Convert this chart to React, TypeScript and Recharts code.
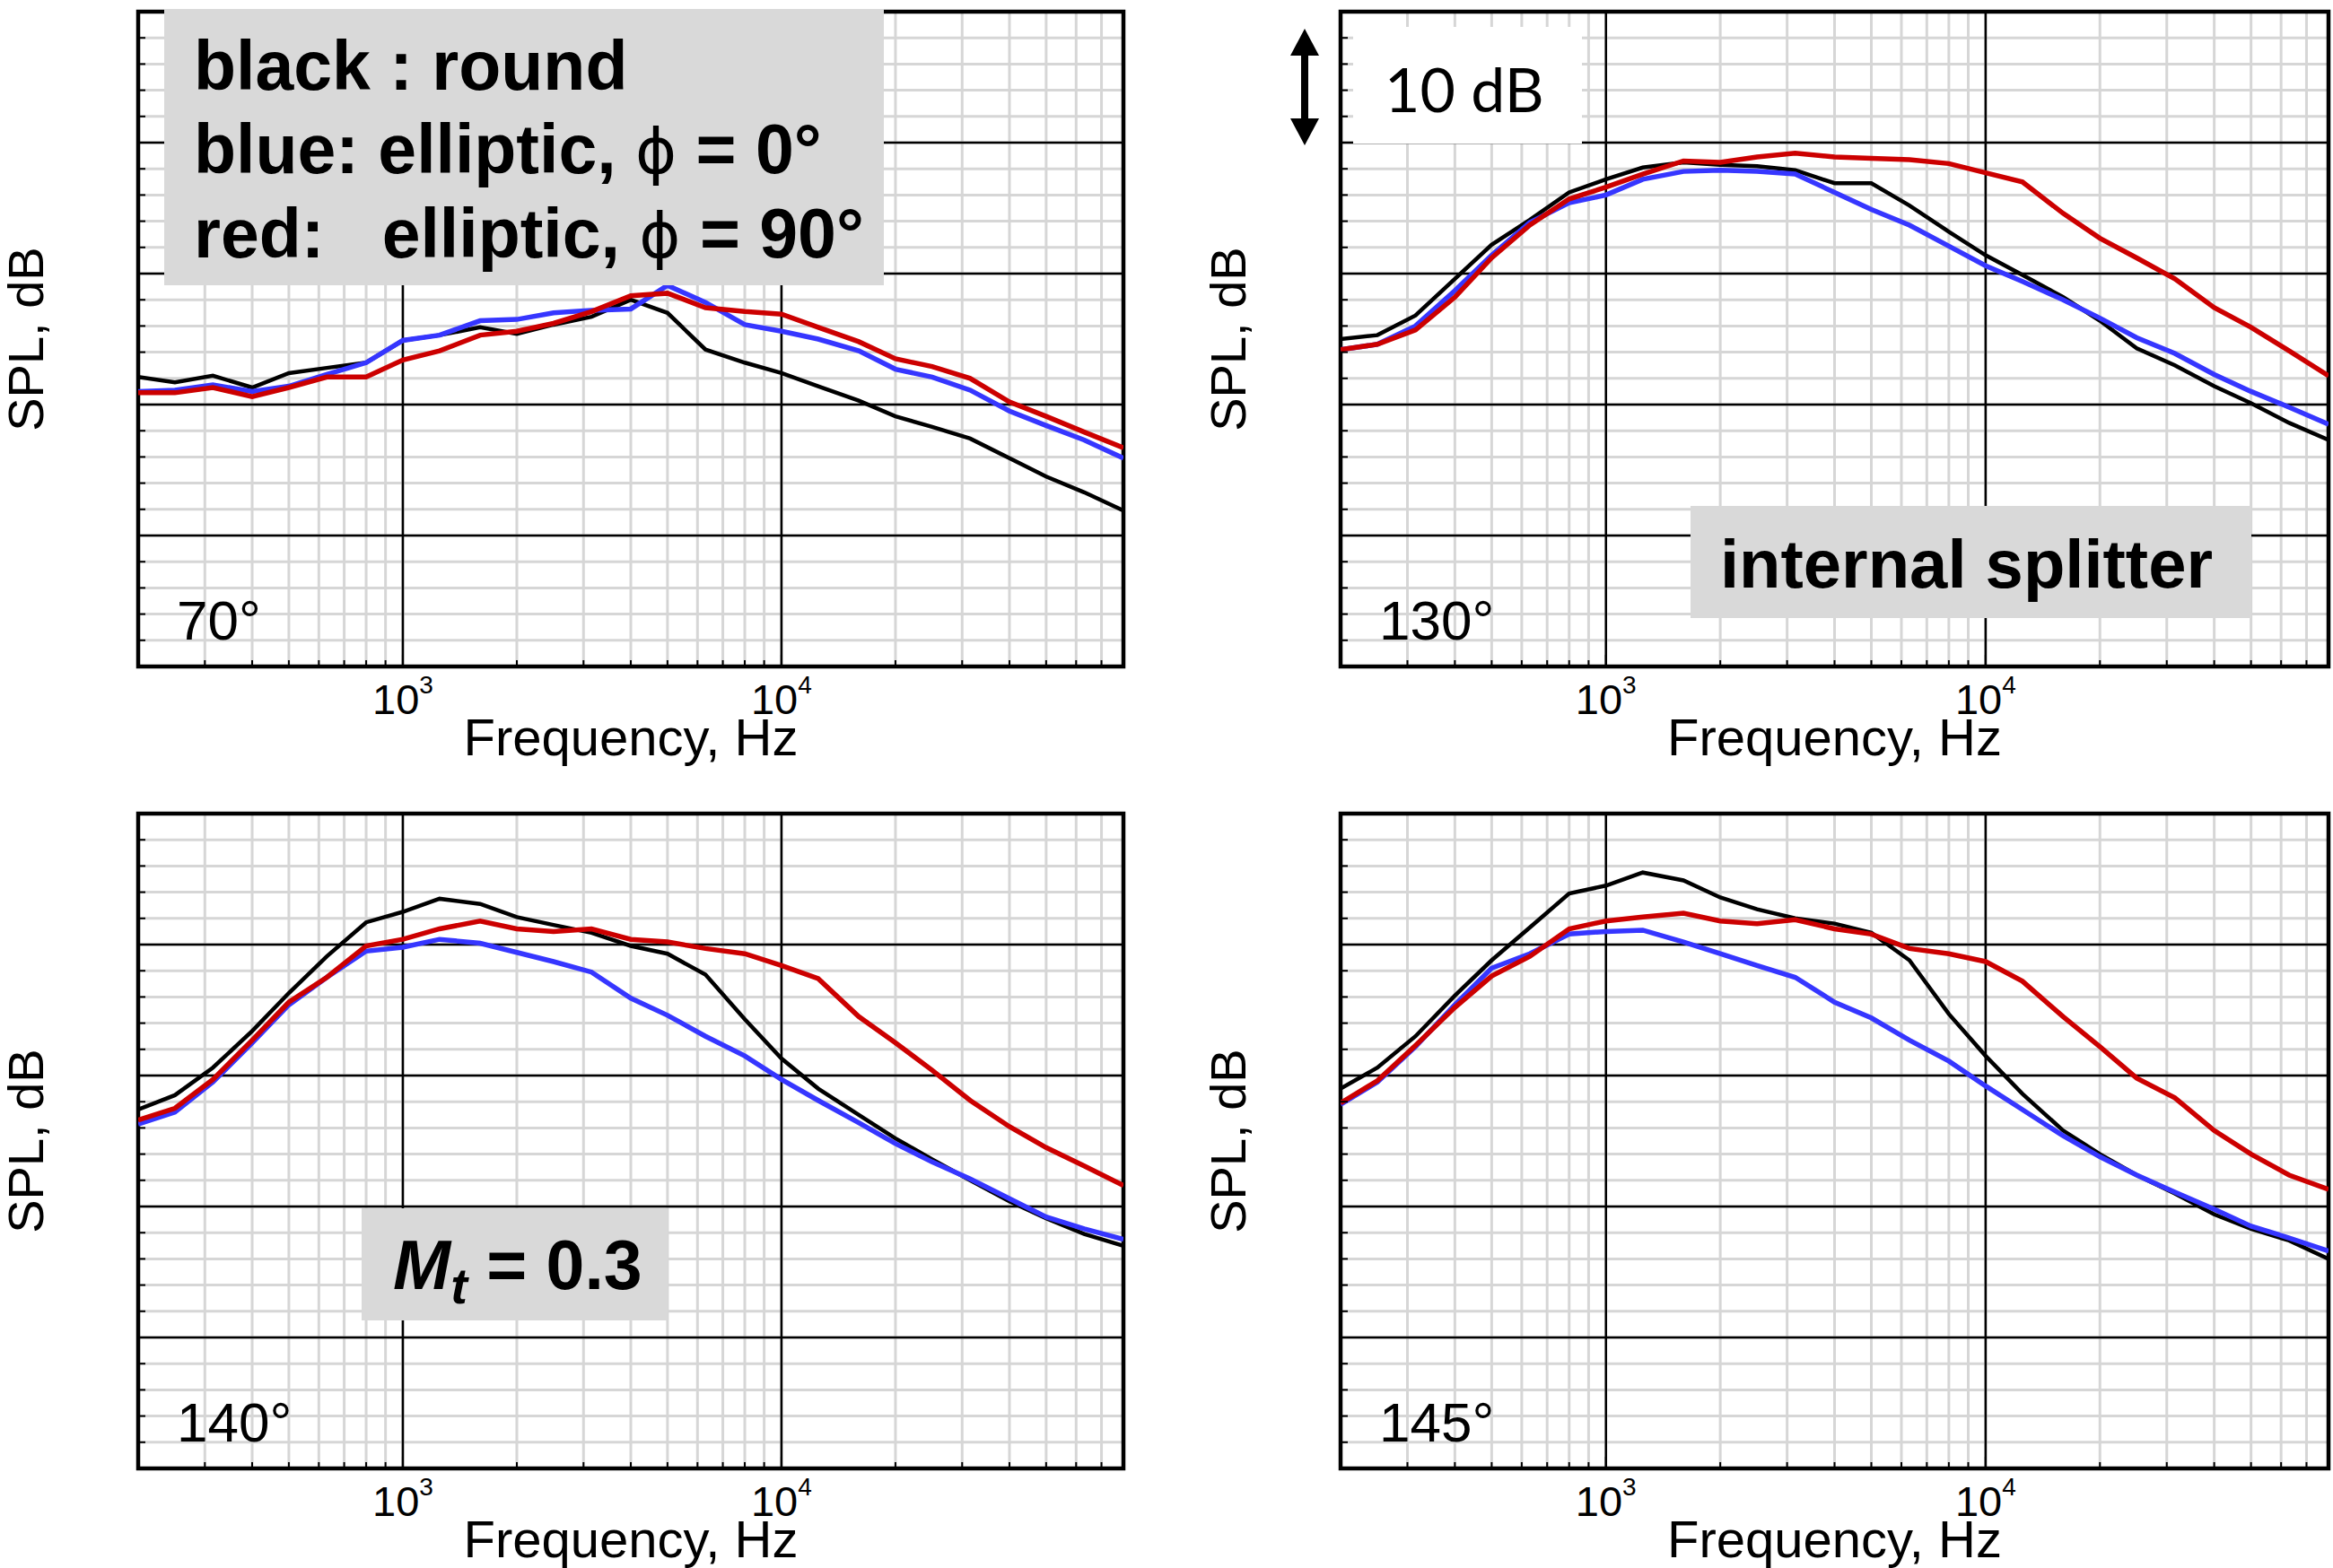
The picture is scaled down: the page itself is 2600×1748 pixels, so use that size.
import React from 'react'
import {
  LineChart, Line, XAxis, YAxis, CartesianGrid, ReferenceLine, ReferenceArea, Label,
} from 'recharts'

const FONT = "'Liberation Sans', Arial, sans-serif"

// 1/3-octave band centre frequencies, Hz
const FREQ = [200, 250, 315, 400, 500, 630, 800, 1000, 1250, 1600, 2000, 2500, 3150, 4000, 5000, 6300, 8000, 10000, 12500, 16000, 20000, 25000, 31500, 40000, 50000, 63000, 80000]

// SPL in dB, relative to the bottom of each panel (panel spans 50 dB)
const black70 = [22.1, 21.7, 22.2, 21.3, 22.4, 22.8, 23.2, 24.9, 25.3, 25.9, 25.4, 26.1, 26.7, 28.0, 27.0, 24.2, 23.2, 22.4, 21.4, 20.3, 19.1, 18.3, 17.4, 15.9, 14.5, 13.3, 11.9]
const blue70 = [21.0, 21.1, 21.5, 21.0, 21.4, 22.3, 23.2, 24.9, 25.3, 26.4, 26.5, 27.0, 27.2, 27.3, 29.1, 27.8, 26.1, 25.6, 25.0, 24.1, 22.7, 22.1, 21.1, 19.5, 18.4, 17.3, 15.9]
const red70 = [20.9, 20.9, 21.3, 20.6, 21.3, 22.1, 22.1, 23.4, 24.1, 25.3, 25.6, 26.2, 27.1, 28.3, 28.5, 27.4, 27.1, 26.9, 25.9, 24.8, 23.5, 22.9, 22.0, 20.2, 19.1, 17.9, 16.7]

const black130 = [25.0, 25.3, 26.8, 29.6, 32.2, 34.1, 36.2, 37.2, 38.1, 38.5, 38.3, 38.2, 37.9, 36.9, 36.9, 35.2, 33.2, 31.4, 29.9, 28.2, 26.4, 24.3, 23.0, 21.4, 20.1, 18.6, 17.3]
const blue130 = [24.2, 24.6, 26.0, 28.7, 31.4, 33.9, 35.4, 36.0, 37.2, 37.8, 37.9, 37.8, 37.6, 36.2, 34.9, 33.7, 32.1, 30.6, 29.4, 28.0, 26.6, 25.1, 23.9, 22.3, 21.0, 19.8, 18.5]
const red130 = [24.2, 24.6, 25.7, 28.2, 31.2, 33.7, 35.7, 36.6, 37.6, 38.6, 38.5, 38.9, 39.2, 38.9, 38.8, 38.7, 38.4, 37.7, 37.0, 34.6, 32.7, 31.2, 29.6, 27.4, 25.9, 24.1, 22.2]

const black140 = [27.4, 28.5, 30.6, 33.4, 36.3, 39.1, 41.7, 42.5, 43.5, 43.1, 42.1, 41.5, 40.9, 39.9, 39.3, 37.7, 34.3, 31.3, 29.0, 27.0, 25.2, 23.6, 22.0, 20.4, 19.1, 17.9, 17.0]
const blue140 = [26.3, 27.2, 29.5, 32.5, 35.4, 37.5, 39.5, 39.8, 40.4, 40.1, 39.4, 38.7, 37.9, 35.9, 34.6, 33.0, 31.5, 29.7, 28.1, 26.4, 24.8, 23.4, 22.1, 20.6, 19.2, 18.3, 17.5]
const red140 = [26.6, 27.5, 29.7, 32.7, 35.6, 37.5, 39.9, 40.4, 41.2, 41.8, 41.2, 41.0, 41.2, 40.4, 40.2, 39.7, 39.3, 38.4, 37.4, 34.5, 32.5, 30.4, 28.1, 26.1, 24.5, 23.1, 21.6]

const black145 = [29.0, 30.6, 33.0, 36.1, 38.8, 41.3, 43.9, 44.5, 45.5, 44.9, 43.6, 42.7, 42.0, 41.6, 40.9, 38.8, 34.7, 31.5, 28.6, 25.8, 24.0, 22.4, 21.0, 19.4, 18.3, 17.4, 16.0]
const blue145 = [27.8, 29.5, 32.2, 35.4, 38.2, 39.3, 40.8, 41.0, 41.1, 40.2, 39.3, 38.4, 37.5, 35.6, 34.4, 32.7, 31.1, 29.2, 27.4, 25.4, 23.8, 22.4, 21.1, 19.8, 18.5, 17.6, 16.6]
const red145 = [27.9, 29.6, 32.3, 35.2, 37.6, 39.1, 41.2, 41.8, 42.1, 42.4, 41.8, 41.6, 41.9, 41.2, 40.8, 39.7, 39.3, 38.7, 37.2, 34.5, 32.2, 29.8, 28.3, 25.8, 24.0, 22.4, 21.3]

// axis ticks
const X_TICKS = [200, 300, 400, 500, 600, 700, 800, 900, 1000, 2000, 3000, 4000, 5000, 6000, 7000, 8000, 9000, 10000, 20000, 30000, 40000, 50000, 60000, 70000, 80000]
const X_DECADES = [1000, 10000]
const X_DECADE_EXP = ['3', '4']
const Y_TICKS = [0, 2, 4, 6, 8, 10, 12, 14, 16, 18, 20, 22, 24, 26, 28, 30, 32, 34, 36, 38, 40, 42, 44, 46, 48, 50]
const Y_MAJOR = [10, 20, 30, 40]

const PLOT_H = 730
const Y_AXIS_W = 154
const X_AXIS_H = 112
const M_TOP = 10
const M_RIGHT = 4

const COLORS = { black: '#000000', blue: '#3636ff', red: '#cc0000', grid: '#d6d6d6', box: '#d9d9d9' }

function FreqTick(props: any) {
  const { x, y, payload } = props
  const idx = X_DECADES.indexOf(payload.value)
  const major = idx >= 0
  return (
    <g>
      <line x1={x} x2={x} y1={y} y2={y - (major ? 13 : 7)} stroke="#000" strokeWidth={2} />
      {major && (
        <text x={x} y={y + 53} textAnchor="middle" fontSize={47} fontFamily={FONT} fill="#000">
          10<tspan dy={-23} fontSize={28}>{X_DECADE_EXP[idx]}</tspan>
        </text>
      )}
    </g>
  )
}

function DbTick(props: any) {
  const { x, y, payload } = props
  const major = payload.value % 10 === 0
  return <line x1={x} x2={x + (major ? 13 : 8)} y1={y} y2={y} stroke="#000" strokeWidth={2} />
}

interface PanelProps {
  left: number
  top: number
  plotW: number
  black: number[]
  blue: number[]
  red: number[]
}

function Panel({ left, top, plotW, black, blue, red }: PanelProps) {
  const data = FREQ.map((f, i) => ({ f, black: black[i], blue: blue[i], red: red[i] }))
  const width = Y_AXIS_W + plotW + M_RIGHT
  const height = M_TOP + PLOT_H + X_AXIS_H
  return (
    <div style={{ position: 'absolute', left, top, width, height }}>
      <LineChart width={width} height={height} data={data}
        margin={{ top: M_TOP, right: M_RIGHT, left: 0, bottom: 0 }}>
        <CartesianGrid stroke={COLORS.grid} strokeWidth={3} />
        <XAxis
          dataKey="f" type="number" scale="log" domain={[200, 80000]} allowDataOverflow
          ticks={X_TICKS} interval={0} height={X_AXIS_H}
          tickSize={0} tickMargin={0} axisLine={false} tick={(p: any) => <FreqTick {...p} />}
        >
          <Label content={(p: any) => {
            const vb = p.viewBox
            return (
              <text x={vb.x + vb.width / 2} y={vb.y + 99} textAnchor="middle"
                fontSize={58} fontFamily={FONT} fill="#000">Frequency, Hz</text>
            )
          }} />
        </XAxis>
        <YAxis
          type="number" domain={[0, 50]} allowDataOverflow ticks={Y_TICKS} interval={0}
          width={Y_AXIS_W} tickSize={0} tickMargin={0} axisLine={false}
          tick={(p: any) => <DbTick {...p} />}
        >
          <Label content={(p: any) => {
            const vb = p.viewBox
            const cx = vb.x + 48
            const cy = vb.y + vb.height / 2
            return (
              <text x={cx} y={cy} transform={`rotate(-90 ${cx} ${cy})`} textAnchor="middle"
                fontSize={56} fontFamily={FONT} fill="#000">SPL, dB</text>
            )
          }} />
        </YAxis>
        {X_DECADES.map((v) => (
          <ReferenceLine key={'x' + v} x={v} stroke="#000" strokeWidth={2.5} />
        ))}
        {Y_MAJOR.map((v) => (
          <ReferenceLine key={'y' + v} y={v} stroke="#000" strokeWidth={2.5} />
        ))}
        <Line type="linear" dataKey="black" stroke={COLORS.black} strokeWidth={4.5} dot={false} isAnimationActive={false} />
        <Line type="linear" dataKey="blue" stroke={COLORS.blue} strokeWidth={5.5} dot={false} isAnimationActive={false} />
        <Line type="linear" dataKey="red" stroke={COLORS.red} strokeWidth={5.5} dot={false} isAnimationActive={false} />
        <ReferenceArea x1={200} x2={80000} y1={0} y2={50} fill="none" fillOpacity={0}
          stroke="#000" strokeWidth={4.5} />
      </LineChart>
    </div>
  )
}

const PANELS = [
  { plotX: 154, plotY: 13, plotW: 1098, black: black70, blue: blue70, red: red70, angle: '70°' },
  { plotX: 1494, plotY: 13, plotW: 1101, black: black130, blue: blue130, red: red130, angle: '130°' },
  { plotX: 154, plotY: 907, plotW: 1098, black: black140, blue: blue140, red: red140, angle: '140°' },
  { plotX: 1494, plotY: 907, plotW: 1101, black: black145, blue: blue145, red: red145, angle: '145°' },
]

export default function App() {
  return (
    <div style={{ position: 'absolute', left: 0, top: 0, width: 2600, height: 1748, background: '#fff', overflow: 'hidden' }}>
      {PANELS.map((p) => (
        <Panel key={p.angle} left={p.plotX - Y_AXIS_W} top={p.plotY - M_TOP} plotW={p.plotW}
          black={p.black} blue={p.blue} red={p.red} />
      ))}
      <svg width={2600} height={1748} style={{ position: 'absolute', left: 0, top: 0, pointerEvents: 'none' }}
        fontFamily={FONT}>
        {/* legend box */}
        <rect x={183} y={10} width={802} height={308} fill={COLORS.box} />
        <g fontSize={77} fontWeight="bold" fill="#000" style={{ whiteSpace: 'pre' }}>
          <text x={216} y={100}>black : round</text>
          <text x={216} y={193}>blue: elliptic, <tspan fontWeight="normal" fontFamily="'DejaVu Sans'" fontSize={70}>ϕ</tspan> = 0°</text>
          <text x={216} y={287} xmlSpace="preserve">red:   elliptic, <tspan fontWeight="normal" fontFamily="'DejaVu Sans'" fontSize={70}>ϕ</tspan> = 90°</text>
        </g>

        {/* 10 dB scale */}
        <rect x={1508} y={30} width={255} height={130} fill="#fff" />
        <text x={1543} y={125} fontSize={68} fontFamily="Lato, 'Open Sans', sans-serif" fill="#000">10 dB</text>
        <polygon points="1454,32 1438,62 1470,62" fill="#000" />
        <polygon points="1454,162 1438,132 1470,132" fill="#000" />
        <rect x={1450} y={58} width={8} height={78} fill="#000" />

        {/* internal splitter */}
        <rect x={1884} y={564} width={625} height={125} fill={COLORS.box} />
        <text x={1917} y={655} fontSize={76} fontWeight="bold" fill="#000">internal splitter</text>

        {/* Mach number */}
        <rect x={403} y={1347} width={341} height={125} fill={COLORS.box} />
        <text x={438} y={1437} fontSize={77} fontWeight="bold" fill="#000">
          <tspan fontStyle="italic">M</tspan>
          <tspan fontStyle="italic" fontSize={56} dy={16}>t</tspan>
          <tspan dy={-16}> = 0.3</tspan>
        </text>

        {/* observer angles */}
        {PANELS.map((p) => (
          <text key={'a' + p.angle} x={p.plotX + 43} y={p.plotY + PLOT_H - 30} fontSize={62} fill="#000">{p.angle}</text>
        ))}
      </svg>
    </div>
  )
}
